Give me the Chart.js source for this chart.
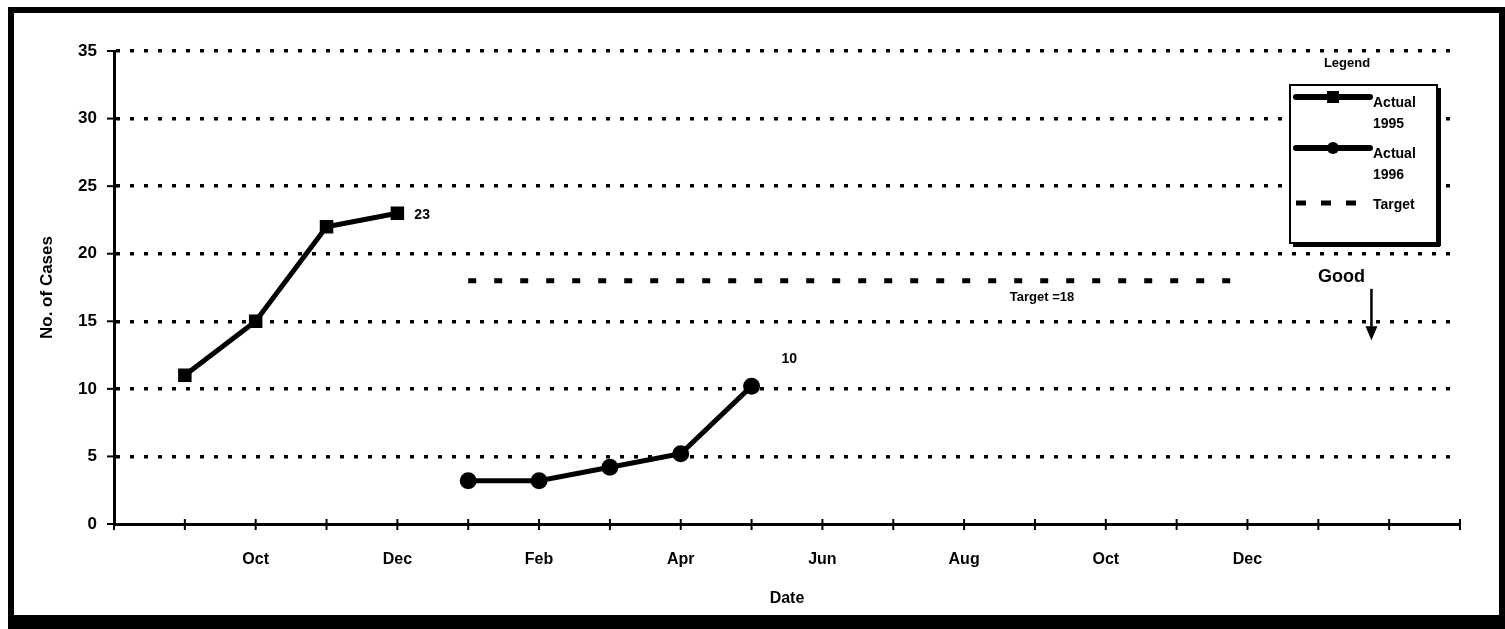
<!DOCTYPE html>
<html>
<head>
<meta charset="utf-8">
<script src="https://cdn.jsdelivr.net/npm/chart.js@4/dist/chart.umd.min.js"></script>
<style>
  body { margin: 0; background: #fff; }
  #wrap { position: relative; width: 1505px; height: 629px; }
  #frame {
    position: absolute; left: 8px; top: 7px; width: 1485px; height: 602px;
    border: 6px solid #000; border-bottom-width: 14px; pointer-events: none;
  }
  canvas { position: absolute; left: 0; top: 0; }
</style>
</head>
<body>
<div id="wrap">
  <canvas id="casesChart" width="1505" height="629"></canvas>
  <div id="frame"></div>
</div>
<script>
  // Months from Aug 1995 to Mar 1997
  const categories = ['Aug', 'Sep', 'Oct', 'Nov', 'Dec', 'Jan', 'Feb', 'Mar', 'Apr', 'May', 'Jun', 'Jul',
    'Aug', 'Sep', 'Oct', 'Nov', 'Dec', 'Jan', 'Feb', 'Mar'];
  const shownTickLabels = ['', '', 'Oct', '', 'Dec', '', 'Feb', '', 'Apr', '', 'Jun', '', 'Aug', '', 'Oct', '', 'Dec', '', '', ''];
  const actual1995 = [null, 11, 15, 22, 23, null, null, null, null, null, null, null, null, null, null, null, null, null, null, null];
  const actual1996 = [null, null, null, null, null, 3.2, 3.2, 4.2, 5.2, 10.2, null, null, null, null, null, null, null, null, null, null];
  const target = [null, null, null, null, null, 18, 18, 18, 18, 18, 18, 18, 18, 18, 18, 18, 18, null, null, null];
  const yTicks = [0, 5, 10, 15, 20, 25, 30, 35];

  const FONT = '"Liberation Sans", Arial, sans-serif';

  // tick marks crossing both axes
  const crossTicks = {
    id: 'crossTicks',
    afterDatasetsDraw(chart) {
      const { ctx, scales: { x, y }, chartArea } = chart;
      ctx.save();
      ctx.strokeStyle = '#000';
      ctx.lineWidth = 2;
      categories.forEach((c, i) => {
        const px = x.getPixelForValue(i);
        ctx.beginPath();
        ctx.moveTo(px, chartArea.bottom - 5);
        ctx.lineTo(px, chartArea.bottom + 6);
        ctx.stroke();
      });
      yTicks.forEach(v => {
        const py = y.getPixelForValue(v);
        ctx.beginPath();
        ctx.moveTo(chartArea.left - 7, py);
        ctx.lineTo(chartArea.left + 4, py);
        ctx.stroke();
      });
      ctx.restore();
    }
  };

  // text notes, arrow and the boxed legend
  const notes = {
    id: 'notes',
    afterDraw(chart) {
      const { ctx, scales: { x, y }, chartArea } = chart;
      ctx.save();
      ctx.fillStyle = '#000';
      ctx.strokeStyle = '#000';
      ctx.textBaseline = 'middle';

      ctx.font = 'bold 14px ' + FONT;
      ctx.textAlign = 'left';
      ctx.fillText('23', x.getPixelForValue(4) + 17, y.getPixelForValue(23) + 2);
      ctx.fillText('10', x.getPixelForValue(9) + 30, y.getPixelForValue(10.2) - 27);

      ctx.font = 'bold 13px ' + FONT;
      ctx.textAlign = 'center';
      ctx.fillText('Target =18', x.getPixelForValue(13.1), y.getPixelForValue(18) + 17);

      // Good + arrow
      const gx = x.getPixelForValue(17.75);
      ctx.font = 'bold 18px ' + FONT;
      ctx.fillText('Good', gx - 30, y.getPixelForValue(18.3));
      ctx.lineWidth = 2.5;
      ctx.beginPath();
      ctx.moveTo(gx, y.getPixelForValue(17.4));
      ctx.lineTo(gx, y.getPixelForValue(14.6));
      ctx.stroke();
      ctx.beginPath();
      const tip = y.getPixelForValue(13.6);
      ctx.moveTo(gx, tip);
      ctx.lineTo(gx - 6, tip - 14);
      ctx.lineTo(gx + 6, tip - 14);
      ctx.closePath();
      ctx.fill();

      // legend
      const lx = chartArea.right - 170, ly = chartArea.top + 34;
      const lw = 147, lh = 158;
      ctx.font = 'bold 13px ' + FONT;
      ctx.fillText('Legend', lx + 57, chartArea.top + 12);
      ctx.fillStyle = '#fff';
      ctx.fillRect(lx, ly, lw, lh);
      ctx.fillStyle = '#000';
      ctx.fillRect(lx + 3, ly + lh, lw, 4);
      ctx.fillRect(lx + lw, ly + 3, 4, lh);
      ctx.lineWidth = 2;
      ctx.strokeRect(lx, ly, lw, lh);

      ctx.textAlign = 'left';
      ctx.font = 'bold 14px ' + FONT;
      const items = chart.data.datasets;
      const rows = [ly + 12, ly + 63, ly + 118];
      items.forEach((ds, i) => {
        const ry = rows[i];
        ctx.save();
        ctx.lineWidth = i < 2 ? ds.borderWidth + 1 : ds.borderWidth;
        ctx.lineCap = i < 2 ? 'round' : 'butt';
        ctx.setLineDash(i < 2 ? [] : [10, 15]);
        ctx.beginPath();
        ctx.moveTo(lx + 6, ry);
        ctx.lineTo(lx + 80, ry);
        ctx.stroke();
        ctx.restore();
        if (ds.pointStyle === 'rect') ctx.fillRect(lx + 37, ry - 6, 12, 12);
        if (ds.pointStyle === 'circle') { ctx.beginPath(); ctx.arc(lx + 43, ry, 6, 0, Math.PI * 2); ctx.fill(); }
        const lines = ds.label.split(' ');
        if (i < 2) {
          ctx.fillText(lines[0], lx + 83, ry + 6);
          ctx.fillText(lines[1], lx + 83, ry + 27);
        } else {
          ctx.fillText(ds.label, lx + 83, ry + 2);
        }
      });
      ctx.restore();
    }
  };

  const ctx = document.getElementById('casesChart').getContext('2d');
  const casesChart = new Chart(ctx, {
    type: 'line',
    data: {
      labels: categories,
      datasets: [{
        label: 'Actual 1995',
        data: actual1995,
        borderColor: '#000',
        backgroundColor: '#000',
        borderWidth: 5,
        pointStyle: 'rect',
        pointRadius: 6
      }, {
        label: 'Actual 1996',
        data: actual1996,
        borderColor: '#000',
        backgroundColor: '#000',
        borderWidth: 5,
        pointStyle: 'circle',
        pointRadius: 6
      }, {
        label: 'Target',
        data: target,
        borderColor: '#000',
        backgroundColor: '#000',
        borderWidth: 5,
        borderDash: [8, 18],
        pointRadius: 0
      }]
    },
    options: {
      responsive: false,
      animation: false,
      layout: { padding: { left: 20, right: 45, top: 51, bottom: 10 } },
      plugins: {
        legend: { display: false },
        tooltip: { enabled: false }
      },
      scales: {
        x: {
          offset: false,
          afterFit: scale => { scale.height = 95; },
          grid: { display: false },
          border: { display: true, color: '#000', width: 3 },
          ticks: {
            autoSkip: false,
            maxRotation: 0,
            padding: 18,
            color: '#000',
            font: { family: FONT, size: 16, weight: 'bold' },
            callback: (val, i) => shownTickLabels[i]
          },
          title: {
            display: true,
            text: 'Date',
            color: '#000',
            padding: { top: 0, bottom: 11 },
            font: { family: FONT, size: 16, weight: 'bold' }
          }
        },
        y: {
          min: 0,
          max: 35,
          afterFit: scale => { scale.width = 94; },
          grid: {
            drawTicks: false,
            color: c => c.tick && c.tick.value === 0 ? 'rgba(0,0,0,0)' : '#000',
            lineWidth: 3.5
          },
          border: { display: true, color: '#000', width: 3, dash: [4, 10] },
          ticks: {
            stepSize: 5,
            padding: 17,
            color: '#000',
            font: { family: FONT, size: 17, weight: 'bold' }
          },
          title: {
            display: true,
            text: 'No. of Cases',
            color: '#000',
            padding: { top: 17, bottom: 0 },
            font: { family: FONT, size: 17, weight: 'bold' }
          }
        }
      }
    },
    plugins: [crossTicks, notes]
  });
</script>
</body>
</html>
